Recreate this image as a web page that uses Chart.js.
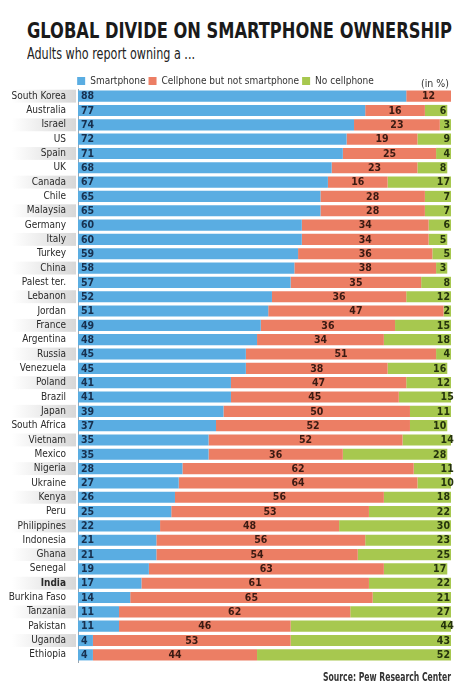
<!DOCTYPE html>
<html>
<head>
<meta charset="utf-8">
<script src="https://cdn.jsdelivr.net/npm/chart.js@4.4.1/dist/chart.umd.min.js"></script>
<style>
  html, body { margin: 0; padding: 0; background: #ffffff; }
  body { width: 473px; height: 695px; position: relative; overflow: hidden;
         font-family: "Liberation Sans Narrow", "DejaVu Sans Condensed", "Roboto Condensed", "Liberation Sans", sans-serif; }
  .fit { position: absolute; white-space: nowrap; transform-origin: 0 0; color: #222; z-index: 2; }
  #title { left: 27px; top: 19px; font-size: 21px; font-weight: bold; color: #1a1a1a; }
  #subtitle { left: 27px; top: 45px; font-size: 15.5px; color: #222; }
  #source { top: 670px; font-size: 11.5px; font-weight: bold; color: #333; }
  #wrap { position: absolute; left: 0; top: 66px; width: 473px; height: 606px; z-index: 1; }
</style>
</head>
<body>
<div id="title" class="fit">GLOBAL DIVIDE ON SMARTPHONE OWNERSHIP</div>
<div id="subtitle" class="fit">Adults who report owning a ...</div>
<div id="source" class="fit">Source: Pew Research Center</div>
<div id="wrap"><canvas id="chart"></canvas></div>
<script>
const countries = ["South Korea","Australia","Israel","US","Spain","UK","Canada","Chile","Malaysia","Germany",
  "Italy","Turkey","China","Palest ter.","Lebanon","Jordan","France","Argentina","Russia","Venezuela",
  "Poland","Brazil","Japan","South Africa","Vietnam","Mexico","Nigeria","Ukraine","Kenya","Peru",
  "Philippines","Indonesia","Ghana","Senegal","India","Burkina Faso","Tanzania","Pakistan","Uganda","Ethiopia"];
const smartphone = [88,77,74,72,71,68,67,65,65,60, 60,59,58,57,52,51,49,48,45,45, 41,41,39,37,35,35,28,27,26,25, 22,21,21,19,17,14,11,11,4,4];
const cellphoneOnly = [12,16,23,19,25,23,16,28,28,34, 34,36,38,35,36,47,36,34,51,38, 47,45,50,52,52,36,62,64,56,53, 48,56,54,63,61,65,62,46,53,44];
const noCellphone = [0,6,3,9,4,8,17,7,7,6, 5,5,3,8,12,2,15,18,4,16, 12,15,11,10,14,28,11,10,18,22, 30,23,25,17,22,21,27,44,43,52];
const seriesNames = ["Smartphone","Cellphone but not smartphone","No cellphone"];
const unitNote = "(in %)";
const boldCategory = "India";

const FONT = '"Liberation Sans Narrow", "DejaVu Sans Condensed", "Roboto Condensed", "Liberation Sans", sans-serif';

function fitWidth(id, target, alignRight) {
  const el = document.getElementById(id);
  const w = el.getBoundingClientRect().width;
  el.style.transform = 'scaleX(' + (target / w) + ')';
  if (alignRight) el.style.left = (alignRight - target) + 'px';
}
fitWidth('title', 425);
fitWidth('subtitle', 168);
fitWidth('source', 128, 451);

const legendShift = {
  id: 'legendShift',
  afterLayout(chart) {
    const lg = chart.legend;
    if (!lg) return;
    const d = 7;
    lg.top += d; lg.bottom += d;
  }
};

const bandPlugin = {
  id: 'bands',
  beforeDraw(chart) {
    const ctx = chart.ctx;
    const y = chart.scales.y;
    const rowH = Math.abs(y.getPixelForValue(1) - y.getPixelForValue(0));
    ctx.save();
    for (let i = 0; i < countries.length; i += 2) {
      const cy = y.getPixelForValue(i);
      const g = ctx.createLinearGradient(12, 0, chart.chartArea.left - 2, 0);
      g.addColorStop(0, 'rgba(215,215,215,0)');
      g.addColorStop(1, 'rgba(215,215,215,1)');
      ctx.fillStyle = g;
      ctx.fillRect(12, cy - rowH * 0.45, chart.chartArea.left - 14, rowH * 0.9);
    }
    ctx.restore();
  }
};

const labelPlugin = {
  id: 'valueLabels',
  afterDatasetsDraw(chart) {
    const ctx = chart.ctx;
    ctx.save();
    ctx.font = 'bold 10.5px ' + FONT;
    ctx.textBaseline = 'middle';
    const colors = ['#17304f', '#3b1a12', '#25330c'];
    chart.data.datasets.forEach((ds, di) => {
      const meta = chart.getDatasetMeta(di);
      meta.data.forEach((bar, i) => {
        const v = ds.data[i];
        if (!v) return;
        ctx.fillStyle = colors[di];
        const left = Math.min(bar.x, bar.base), right = Math.max(bar.x, bar.base);
        if (di === 0) { ctx.textAlign = 'left'; ctx.fillText(String(v), left + 3, bar.y + 0.5); }
        else if (di === 1) { ctx.textAlign = 'center'; ctx.fillText(String(v), (left + right) / 2, bar.y + 0.5); }
        else { ctx.textAlign = 'right'; ctx.fillText(String(v), right - 1, bar.y + 0.5); }
      });
    });
    const lg = chart.legend;
    ctx.font = '10.5px ' + FONT;
    ctx.fillStyle = '#333';
    ctx.textAlign = 'right';
    ctx.fillText(unitNote, chart.chartArea.right - 2, lg.top + lg.height / 2);
    ctx.restore();
  }
};

new Chart(document.getElementById('chart'), {
  type: 'bar',
  data: {
    labels: countries,
    datasets: [
      { label: seriesNames[0], data: smartphone, backgroundColor: '#5aade2' },
      { label: seriesNames[1], data: cellphoneOnly, backgroundColor: '#ec7e64' },
      { label: seriesNames[2], data: noCellphone, backgroundColor: '#a7c84f' }
    ]
  },
  options: {
    indexAxis: 'y',
    responsive: true,
    maintainAspectRatio: false,
    animation: false,
    layout: { padding: { left: 0, right: 22, top: 0, bottom: 0 } },
    datasets: { bar: { barPercentage: 0.78, categoryPercentage: 1, borderWidth: 0 } },
    scales: {
      x: { stacked: true, min: 0, max: 100, display: false },
      y: {
        stacked: true,
        grid: { display: false },
        border: { display: true, color: '#9aa6b0', width: 1 },
        afterFit(scale) { scale.width = 78; },
        ticks: {
          autoSkip: false,
          padding: 4,
          color: '#2a2a2a',
          font: (c) => ({ family: FONT, size: 10, weight: countries[c.index] === boldCategory ? 'bold' : 'normal' })
        }
      }
    },
    plugins: {
      legend: {
        position: 'top',
        labels: {
          boxWidth: 8, boxHeight: 8, padding: 3, color: '#333',
          font: { family: FONT, size: 10 }
        }
      },
      tooltip: { enabled: false }
    }
  },
  plugins: [legendShift, bandPlugin, labelPlugin]
});
</script>
</body>
</html>
